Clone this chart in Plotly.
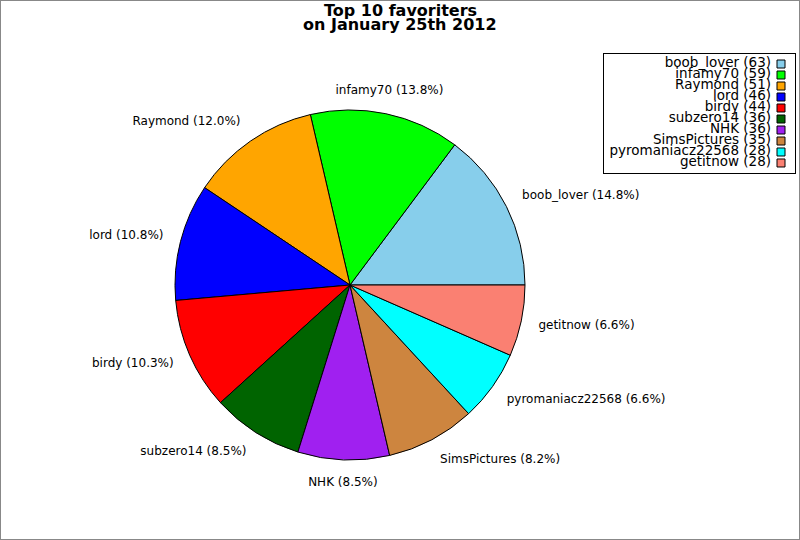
import numpy as np
import plotly.graph_objects as go

names = ["boob_lover", "infamy70", "Raymond", "lord", "birdy",
         "subzero14", "NHK", "SimsPictures", "pyromaniacz22568", "getitnow"]
favs = [63, 59, 51, 46, 44, 36, 36, 35, 28, 28]
colours = ["#87CEEB", "#00FF00", "#FFA500", "#0000FF", "#FF0000",
           "#006400", "#A020F0", "#CD853F", "#00FFFF", "#FA8072"]
title_lines = ["Top 10 favoriters", "on January 25th 2012"]

W, H = 800, 540
font = "DejaVu Sans"
cx, cy, r = 350, 285, 175  # pie centre / radius in pixels
span = 1.3                 # label axis reaches this many radii out

total = sum(favs)
# plotly's counterclockwise pie puts the END of slice 0 at the rotation angle,
# so turn it back by the first slice to start at 3 o'clock like matplotlib
first_deg = 360.0 * favs[0] / total

fig = go.Figure()

pie_dom = dict(x=[(cx - r) / W, (cx + r) / W], y=[(H - cy - r) / H, (H - cy + r) / H])
fig.add_trace(go.Pie(
    labels=names, values=favs, sort=False,
    direction="counterclockwise", rotation=90 - first_deg,
    marker=dict(colors=colours, line=dict(color="black", width=1)),
    textinfo="none", domain=pie_dom,
    showlegend=False, hoverinfo="label+value+percent",
))

# slice labels a bit outside the rim, on an invisible axis laid over the pie
mid = np.radians((np.cumsum(favs) - np.array(favs) / 2) / total * 360)
lx = 1.1 * np.cos(mid)
ly = 1.13 * np.sin(mid)
pos = ["middle center" if abs(c) < 0.3 else ("middle right" if c > 0 else "middle left")
       for c in np.cos(mid)]
fig.add_trace(go.Scatter(
    x=lx, y=ly, mode="text",
    text=[f"{n} ({v / total:.1%})" for n, v in zip(names, favs)],
    textposition=pos, cliponaxis=False,
    textfont=dict(family=font, size=12, color="black"),
    xaxis="x2", yaxis="y2", showlegend=False, hoverinfo="skip",
))

# legend as a small boxed subplot: right-aligned text, colour square on the right
rows = list(range(len(names)))
fig.add_trace(go.Scatter(
    x=[167] * len(names), y=rows, mode="text",
    text=[f"{n} ({v})" for n, v in zip(names, favs)],
    textposition="middle left", cliponaxis=False,
    textfont=dict(family=font, size=13.5, color="black"),
    xaxis="x", yaxis="y", showlegend=False, hoverinfo="skip",
))
fig.add_trace(go.Scatter(
    x=[177] * len(names), y=rows, mode="markers",
    marker=dict(symbol="square", size=8, color=colours,
                line=dict(color="black", width=1)),
    xaxis="x", yaxis="y", showlegend=False, hoverinfo="skip",
))

annots = []
for i, line in enumerate(title_lines):
    annots.append(dict(text=f"<b>{line}</b>", xref="paper", yref="paper",
                       x=0.5, y=(H - 10.5 - 14 * i) / H, xanchor="center",
                       yanchor="middle", showarrow=False,
                       font=dict(family=font, size=16, color="black")))

hidden = dict(showgrid=False, zeroline=False, showticklabels=False,
              showline=False, ticks="", fixedrange=True)
R = span * r
fig.update_layout(
    width=W, height=H,
    margin=dict(l=0, r=0, t=0, b=0),
    paper_bgcolor="white", plot_bgcolor="rgba(0,0,0,0)",
    annotations=annots,
    xaxis=dict(domain=[604 / W, 795 / W], range=[0, 191],
               showgrid=False, zeroline=False, showticklabels=False,
               showline=True, mirror=True, linecolor="black", linewidth=1,
               ticks="", fixedrange=True),
    yaxis=dict(domain=[(H - 173) / H, (H - 54) / H], range=[9.91, -0.91],
               showgrid=False, zeroline=False, showticklabels=False,
               showline=True, mirror=True, linecolor="black", linewidth=1,
               ticks="", fixedrange=True),
    xaxis2=dict(domain=[(cx - R) / W, (cx + R) / W], range=[-span, span],
                anchor="y2", **hidden),
    yaxis2=dict(domain=[(H - cy - R) / H, (H - cy + R) / H], range=[-span, span],
                anchor="x2", **hidden),
    shapes=[dict(type="rect", xref="paper", yref="paper", x0=0, y0=0, x1=1, y1=1,
                 line=dict(color="#888888", width=2))],
)

fig.write_html("out.html", config={"displayModeBar": False},
               post_script="document.body.style.margin='0';")
